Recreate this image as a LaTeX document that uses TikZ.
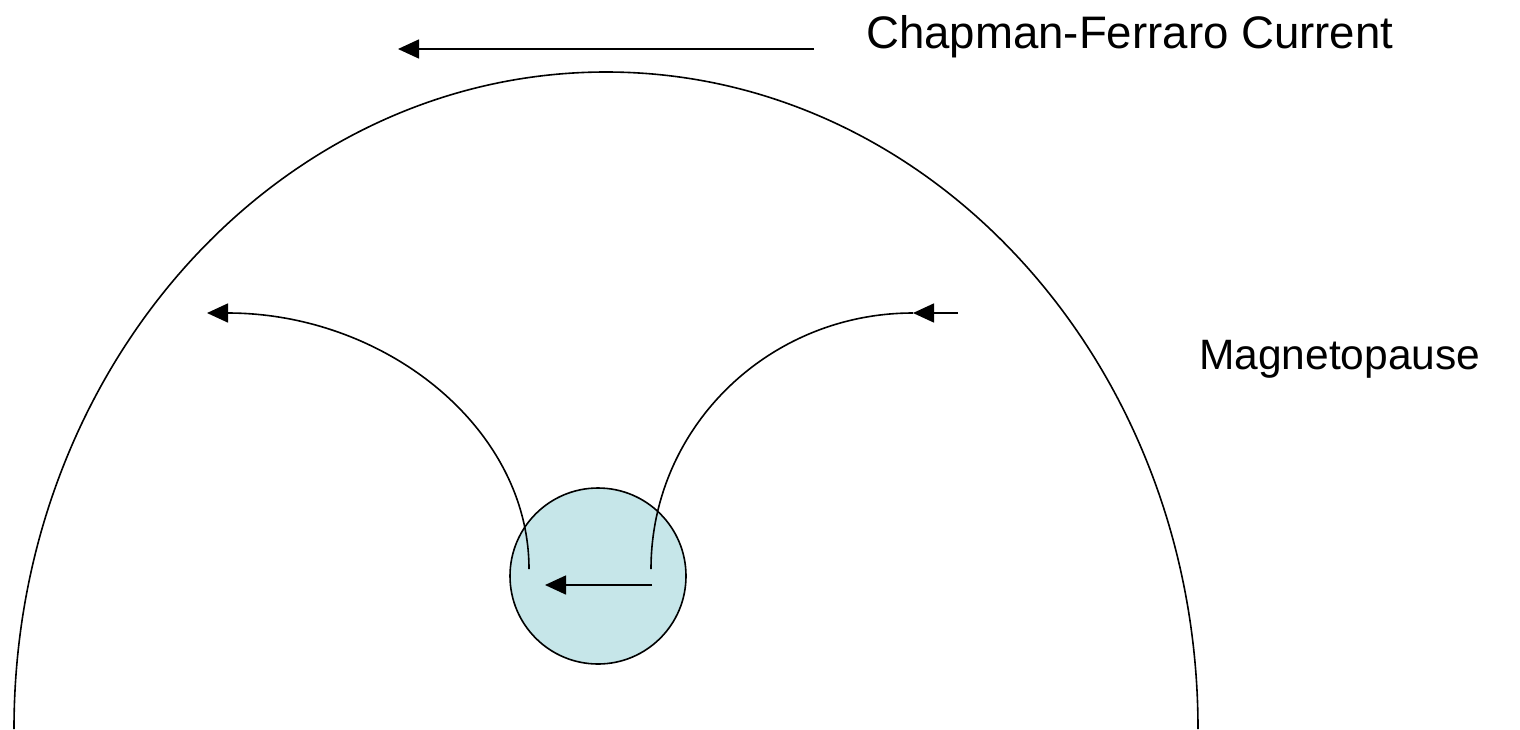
\documentclass[tikz,border=0pt]{standalone}
\usepackage{fontspec}
\setmainfont{Liberation Sans}
\usetikzlibrary{arrows.meta}
\definecolor{earthfill}{RGB}{198,230,233}
\tikzset{
  ln/.style={line width=1.6pt, black},
  arr/.style={ln, -{Triangle[length=21pt, width=19pt]}},
  lbl/.style={inner sep=0pt, anchor=base west}
}
\begin{document}
\begin{tikzpicture}[x=1pt, y=-1pt]
\useasboundingbox (0,0) rectangle (1520,729);
% magnetopause
\draw[ln] (14,729) arc[start angle=180, end angle=360, x radius=592, y radius=657];
% earth
\node[circle, draw, ln, fill=earthfill, minimum size=176pt, inner sep=0pt] (earth) at (598,576) {};
% coordinates
\coordinate (cfS) at (814,49);
\coordinate (cfE) at (398,49);
\coordinate (lS) at (529,569);
\coordinate (lE) at (207,313);
\coordinate (rS) at (651,569);
\coordinate (rE) at (913,313);
\coordinate (rT) at (958,313);
\coordinate (iS) at (652,585);
\coordinate (iE) at (545,585);
% arrows
\draw[arr] (cfS) -- (cfE);
\draw[arr] (lS) arc[start angle=0, end angle=-90, x radius=322, y radius=256];
\draw[ln] (rS) arc[start angle=180, end angle=270, x radius=262, y radius=256];
\draw[arr] (rT) -- (rE);
\draw[arr] (iS) -- (iE);
% labels
\node[lbl, font=\fontsize{45.6}{54}\selectfont] (cf) at (866,48) {Chapman-Ferraro Current};
\node[lbl, font=\fontsize{42.5}{50}\selectfont] (mp) at (1199,369) {Magnetopause};
\end{tikzpicture}
\end{document}
